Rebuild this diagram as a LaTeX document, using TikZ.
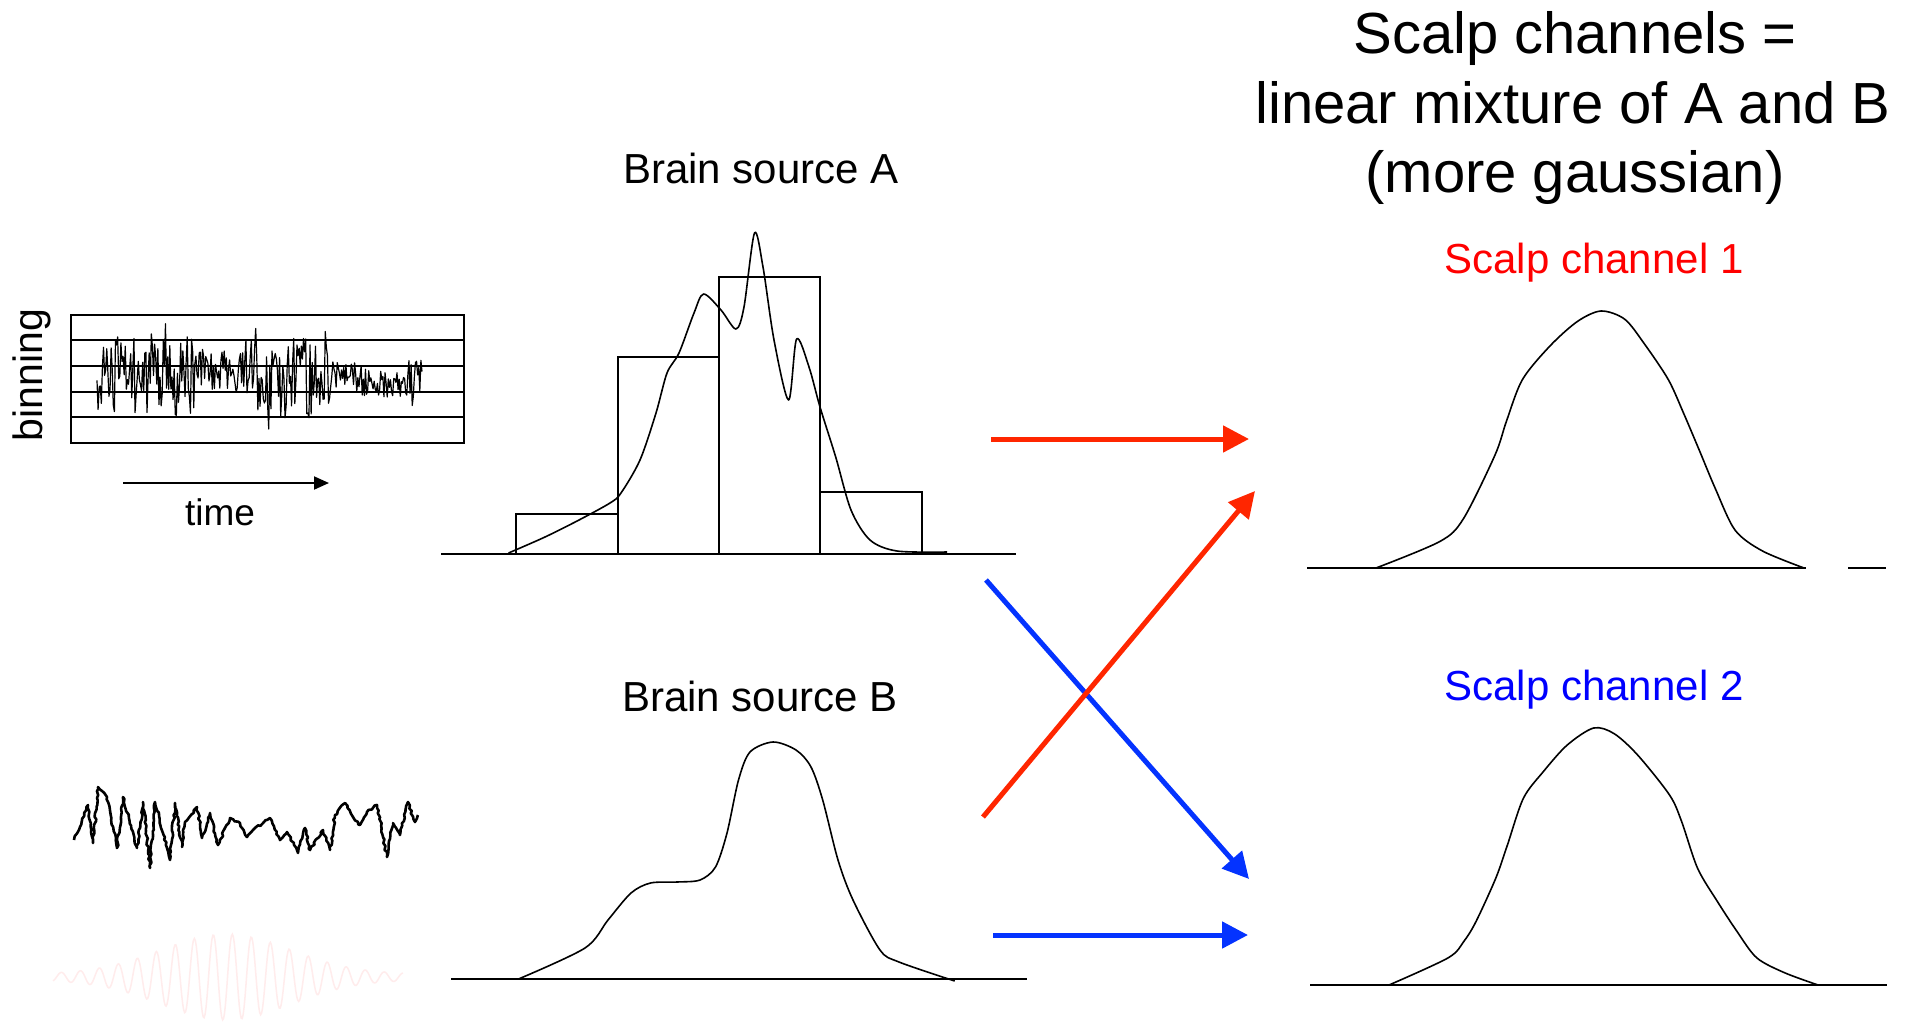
\documentclass[tikz,border=0pt]{standalone}
\usepackage{fontspec}
\setmainfont{Liberation Sans}
\usetikzlibrary{arrows.meta,decorations.pathmorphing}
\definecolor{arrred}{RGB}{255,38,0}
\definecolor{arrblue}{RGB}{4,51,255}
\definecolor{txtred}{RGB}{255,0,0}
\definecolor{txtblue}{RGB}{0,0,255}
\definecolor{faintpink}{RGB}{255,236,236}
\begin{document}
\begin{tikzpicture}[x=1pt,y=-1pt,
  declare function={
    aA(\t)=52*(\t<195)+27*(\t>195)*(\t<245)+55*(\t>245)*(\t<330)+18*(\t>330)*(\t<355)+20*(\t>355)*(\t<405)+30*(\t>405);
    cA(\t)=372+6*(\t>245)*(\t<330)+3*(\t>330)*(\t<355)+12*(\t>355)*(\t<405)+5*(\t>405);
  },
  lbl/.style={inner sep=0pt, anchor=base, font=\fontsize{42}{50}\selectfont},
  ttl/.style={inner sep=0pt, anchor=base, font=\fontsize{58}{69.5}\selectfont},
  boxline/.style={line width=2.2pt},
  histbar/.style={line width=2.3pt},
  axisline/.style={line width=2pt},
  curve/.style={line width=1.6pt, line join=round},
  arrowline/.style={line width=5pt, -{Triangle[length=26pt,width=26pt]}},
]
\fill[white] (0,0) rectangle (1910,1021);
\useasboundingbox (0,0) rectangle (1910,1021);

% ---- titles ----
\node[ttl] (title1) at (1575,53) {Scalp channels =};
\node[ttl] (title2) at (1573,123) {linear mixture of A and B};
\node[ttl] (title3) at (1575,192) {(more gaussian)};

\node[lbl] (srcA) at (761,183) {Brain source A};
\node[lbl] (srcB) at (760,711) {Brain source B};
\node[lbl, text=txtred] (ch1) at (1594,273) {Scalp channel 1};
\node[lbl, text=txtblue] (ch2) at (1594,700) {Scalp channel 2};

% ---- binning box ----
\draw[boxline] (71,315) rectangle (464,443);
\foreach \yy in {340,366,392,417} \draw[boxline] (71,\yy) -- (464,\yy);
\pgfmathsetseed{7}
\draw[line width=1.2pt, line join=round] plot[domain=97:422, samples=300, variable=\t] ({\t},{cA(\t)+aA(\t)*rand*(0.55+0.45*abs(rand))});
\node[inner sep=0pt, anchor=base, rotate=90, font=\fontsize{41}{49}\selectfont] (binning) at (42,375) {binning};
\coordinate (t0) at (123,483);
\coordinate (t1) at (329,483);
\draw[line width=2pt, -{Triangle[length=15pt,width=13pt]}] (t0) -- (t1);
\node[inner sep=0pt, anchor=base, font=\fontsize{37}{44}\selectfont] (time) at (220,525) {time};

% ---- signal B ----
\draw[line width=2.6pt, line join=round, decorate, decoration={random steps, segment length=3pt, amplitude=1.1pt}]
 (74,840) -- (80,827) -- (88,805) -- (93,843) -- (98,787) -- (107,797) -- (117,848) -- (123,797) -- (137,848) -- (143,802)
 -- (150,868) -- (155,802) -- (170,860) -- (175,803) -- (182,847) -- (185,822) -- (197,807) -- (202,838) -- (210,813)
 -- (218,845) -- (230,818) -- (240,823) -- (247,837) -- (253,830) -- (270,818) -- (280,840) -- (287,832) -- (298,853)
 -- (305,828) -- (310,850) -- (323,830) -- (330,850) -- (335,815) -- (345,803) -- (353,817) -- (360,825) -- (367,812)
 -- (377,805) -- (387,857) -- (393,823) -- (400,835) -- (408,802) -- (415,822) -- (418,815);

% ---- faint pink wave ----
\draw[faintpink, line width=1.5pt] plot[domain=53:403, samples=360, variable=\x]
 ({\x},{977-(3+40*exp(-0.5*((\x-226)/65)^2))*cos((\x-232.3)*18.947)});

% ---- histogram A ----
\draw[histbar] (516,554) rectangle (618,514);
\draw[histbar] (618,554) rectangle (719,357);
\draw[histbar] (719,554) rectangle (820,277);
\draw[histbar] (820,554) rectangle (922,492);
\draw[axisline] (441,554) -- (1016,554);
\draw[curve] plot[smooth, tension=0.5] coordinates {
 (508.5,553) (545,537) (579,520) (610,503) (621,493) (640,460) (656,413) (667,373) (679,353)
 (694,313) (703.6,294) (721,310) (736,329) (744,307) (754.5,233) (763,267) (774,340)
 (788.6,400) (796.6,339) (809,367) (820,407) (835.7,457) (851,510) (870,540) (897,551) (947,552)};

% ---- source B distribution ----
\draw[axisline] (451,979) -- (1027,979);
\draw[curve] plot[smooth, tension=0.5] coordinates {
 (518.5,979) (585,948) (608,920) (631,893) (650.5,883) (677,882) (700,880) (715.5,867)
 (727,833) (738.5,780) (750,752) (773,742) (796,750) (811,767) (822.7,800) (838,860)
 (853,900) (880,950) (899,962) (954.7,981)};

% ---- scalp channel 1 ----
\draw[axisline] (1307,568) -- (1806,568);
\draw[axisline] (1848,568) -- (1886,568);
\draw[curve] plot[smooth, tension=0.5] coordinates {
 (1376,568) (1439.8,541.5) (1463.3,518.9) (1495,455) (1506.5,421) (1522.4,379.6) (1550.2,345.7)
 (1577.6,321.3) (1601.1,311) (1624.7,319.2) (1644.4,343.9) (1668.3,379.6) (1683.7,413.5)
 (1699.6,451) (1715.4,488.8) (1735.1,530.2) (1762.5,551) (1804,568)};

% ---- scalp channel 2 ----
\draw[axisline] (1310,985) -- (1887,985);
\draw[curve] plot[smooth, tension=0.5] coordinates {
 (1389,985) (1448.2,957.8) (1464.1,941) (1476.1,921.3) (1495.8,878.1) (1507.4,845) (1523.3,798.4)
 (1543,772) (1567,745.2) (1593.6,728) (1614.2,733.7) (1637.8,755.2) (1669.6,795.1) (1681.6,821.5)
 (1697.5,868.1) (1717.2,901.2) (1736.9,931.3) (1756.7,957.8) (1784.5,972.7) (1818,985)};

% ---- mixing arrows ----
\coordinate (aS) at (991,439);  \coordinate (aE) at (1249,439);
\coordinate (bS) at (986,580);  \coordinate (bE) at (1249,879);
\coordinate (cS) at (983,817);  \coordinate (cE) at (1255,491);
\coordinate (dS) at (993,935);  \coordinate (dE) at (1248,935);
\draw[arrowline, arrblue] (bS) -- (bE);
\draw[arrowline, arrblue] (dS) -- (dE);
\draw[arrowline, arrred] (aS) -- (aE);
\draw[arrowline, arrred] (cS) -- (cE);
\end{tikzpicture}
\end{document}
